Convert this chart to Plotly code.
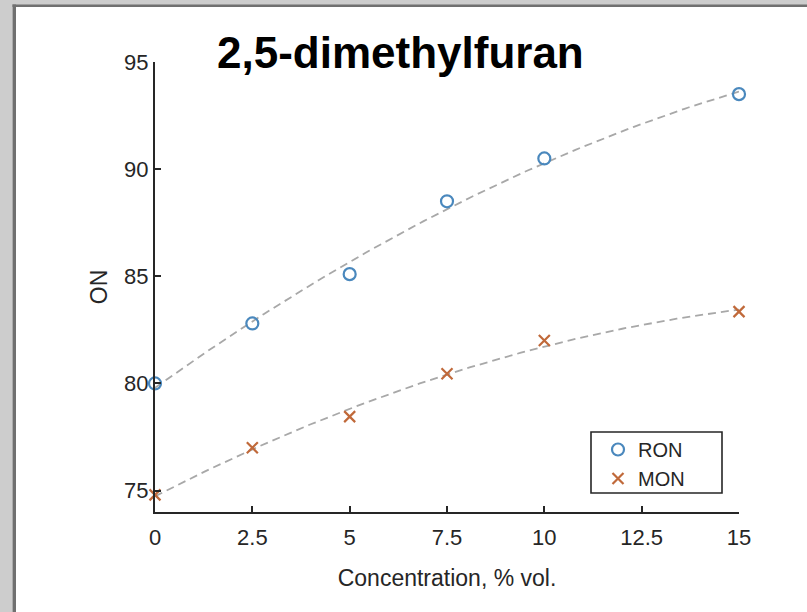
import numpy as np
import plotly.graph_objects as go

# ---- data ----
concentration = [0, 2.5, 5, 7.5, 10, 15]
ron = [80.0, 82.8, 85.1, 88.5, 90.5, 93.5]
mon = [74.8, 77.0, 78.45, 80.45, 82.0, 83.35]
x_ticks = [0, 2.5, 5, 7.5, 10, 12.5, 15]
x_tick_labels = ["0", "2.5", "5", "7.5", "10", "12.5", "15"]
y_ticks = [75, 80, 85, 90, 95]
y_tick_labels = ["75", "80", "85", "90", "95"]
title_text = "2,5-dimethylfuran"

# quadratic trend lines fitted to the data (as in the original figure)
x_fit = np.linspace(0, 15, 151)
ron_fit = np.polyval(np.polyfit(concentration, ron, 2), x_fit)
mon_fit = np.polyval(np.polyfit(concentration, mon, 2), x_fit)

W, H = 807, 612
L, R, T, B = 155, 68, 62, 100
PW, PH = W - L - R, H - T - B


def px(xp):
    return (xp - L) / PW


def py(yp):
    return (H - B - yp) / PH


FONT = "Liberation Sans, Arial, Helvetica, sans-serif"
INK = "#262626"
BLUE = "#4a88bd"
ORANGE = "#c0693a"
FIT = "#a8a8a8"

fig = go.Figure()
fig.add_trace(go.Scatter(x=x_fit, y=ron_fit, mode="lines", showlegend=False,
                         line=dict(color=FIT, width=1.8, dash="8px,5px"), hoverinfo="skip"))
fig.add_trace(go.Scatter(x=x_fit, y=mon_fit, mode="lines", showlegend=False,
                         line=dict(color=FIT, width=1.8, dash="8px,5px"), hoverinfo="skip"))
fig.add_trace(go.Scatter(x=concentration, y=ron, mode="markers", name="RON", cliponaxis=False,
                         marker=dict(symbol="circle-open", size=12, color=BLUE,
                                     line=dict(width=2.2, color=BLUE))))
fig.add_trace(go.Scatter(x=concentration, y=mon, mode="markers", name="MON", cliponaxis=False,
                         marker=dict(symbol="x-thin-open", size=11, color=ORANGE,
                                     line=dict(width=2.2, color=ORANGE))))

axis_common = dict(showline=True, linecolor=INK, linewidth=2, ticks="inside", ticklen=6,
                   tickwidth=2, tickcolor=INK, showgrid=False, zeroline=False, mirror=False,
                   tickfont=dict(family=FONT, size=22, color=INK))

fig.update_xaxes(range=[0, 15], tickvals=x_ticks, ticktext=x_tick_labels, ticklabelstandoff=5,
                 title=dict(text="Concentration, % vol.", font=dict(family=FONT, size=23, color=INK),
                            standoff=20),
                 **axis_common)
fig.update_yaxes(range=[74, 95], tickvals=y_ticks, ticktext=y_tick_labels,
                 title=dict(text="ON", font=dict(family=FONT, size=23, color=INK), standoff=10),
                 **axis_common)

shapes = [
    # gray frame of the screenshot (left and top)
    dict(type="rect", xref="paper", yref="paper", x0=px(0), x1=px(W), y0=py(5), y1=py(0),
         fillcolor="#cdcdcd", line=dict(width=0), layer="above"),
    dict(type="rect", xref="paper", yref="paper", x0=px(0), x1=px(12.5), y0=py(H), y1=py(0),
         fillcolor="#cdcdcd", line=dict(width=0), layer="above"),
    dict(type="rect", xref="paper", yref="paper", x0=px(12.5), x1=px(W), y0=py(7), y1=py(4.5),
         fillcolor="#707070", line=dict(width=0), layer="above"),
    dict(type="rect", xref="paper", yref="paper", x0=px(12.5), x1=px(16), y0=py(H), y1=py(4.5),
         fillcolor="#707070", line=dict(width=0), layer="above"),
    # legend box
    dict(type="rect", xref="paper", yref="paper", x0=px(591), x1=px(722), y0=py(493), y1=py(432),
         fillcolor="white", line=dict(width=1.6, color=INK), layer="above"),
]

fig.update_layout(
    width=W, height=H, autosize=False,
    margin=dict(l=L, r=R, t=T, b=B, pad=0),
    paper_bgcolor="white", plot_bgcolor="white",
    font=dict(family=FONT, color=INK),
    shapes=shapes,
    legend=dict(x=px(598), y=py(430), xanchor="left", yanchor="top",
                bgcolor="rgba(0,0,0,0)", borderwidth=0,
                font=dict(family=FONT, size=20, color=INK), tracegroupgap=0),
    annotations=[dict(text="<b>" + title_text + "</b>", xref="paper", yref="paper",
                      x=px(400), y=py(53), xanchor="center", yanchor="middle", showarrow=False,
                      font=dict(family=FONT, size=44, color="black"))],
)

fig.write_html("out.html")
